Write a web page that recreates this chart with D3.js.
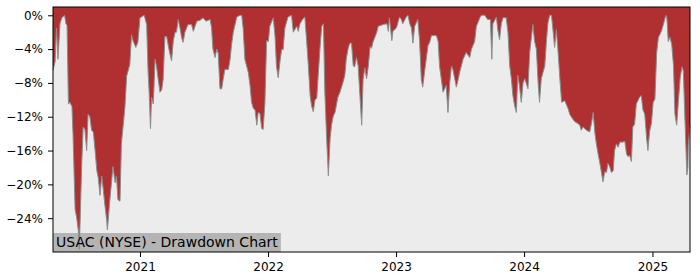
<!DOCTYPE html>
<html>
<head>
<meta charset="utf-8">
<title>USAC (NYSE) - Drawdown Chart</title>
<style>
  body { margin: 0; background: #fff; }
  svg { display: block; font-family: "DejaVu Sans", sans-serif; }
  .tick text { fill: #000; }
</style>
</head>
<body>
<svg id="chart" width="700" height="280"></svg>
<script src="https://cdnjs.cloudflare.com/ajax/libs/d3/7.8.5/d3.min.js"></script>
<script>

// drawdown in percent, one list per year
var dd2020 = [
  ["2020-04-28", -6.5], ["2020-05-04", -5.5], ["2020-05-08", -1.5], ["2020-05-12", -5.2],
  ["2020-05-18", -1.0], ["2020-05-23", -0.3], ["2020-05-31", 0], ["2020-06-04", -1.0],
  ["2020-06-07", -1.2], ["2020-06-11", -10.5], ["2020-06-15", -10.3], ["2020-06-21", -10.8],
  ["2020-06-24", -14], ["2020-06-30", -23], ["2020-07-04", -23.8], ["2020-07-09", -25.4],
  ["2020-07-12", -27.7], ["2020-07-19", -17.5], ["2020-07-23", -13.2], ["2020-07-28", -13.5],
  ["2020-08-02", -16], ["2020-08-06", -11.7], ["2020-08-11", -12], ["2020-08-16", -13.6],
  ["2020-08-21", -13.8], ["2020-08-26", -16], ["2020-08-31", -18.4], ["2020-09-04", -19.2],
  ["2020-09-09", -21.3], ["2020-09-14", -19], ["2020-09-18", -20.5], ["2020-09-23", -22.5],
  ["2020-09-28", -24.2], ["2020-09-30", -25.4], ["2020-10-07", -21.9], ["2020-10-16", -17.9],
  ["2020-10-22", -19.8], ["2020-10-26", -19], ["2020-10-30", -21.8], ["2020-11-05", -22],
  ["2020-11-09", -15.2], ["2020-11-19", -10.9], ["2020-11-24", -7.2], ["2020-12-03", -5.8],
  ["2020-12-08", -2.3], ["2020-12-12", -3.0], ["2020-12-20", -3.8], ["2020-12-26", -3.2]
];
var dd2021 = [
  ["2021-01-01", -0.3], ["2021-01-13", 0], ["2021-01-20", -1.1], ["2021-01-24", -6.6],
  ["2021-01-27", -9], ["2021-01-31", -13.4], ["2021-02-03", -9.7], ["2021-02-08", -10.5],
  ["2021-02-13", -5.2], ["2021-02-17", -6], ["2021-02-22", -7.6], ["2021-02-27", -9.1],
  ["2021-03-04", -8.8], ["2021-03-08", -7.6], ["2021-03-13", -2.5], ["2021-03-18", -2.5],
  ["2021-03-23", -3.7], ["2021-03-27", -4.5], ["2021-04-01", -5.4], ["2021-04-06", -3],
  ["2021-04-11", -2], ["2021-04-15", -2], ["2021-04-20", -0.5], ["2021-04-25", -1.5],
  ["2021-04-30", -2.7], ["2021-05-04", -3.2], ["2021-05-09", -2], ["2021-05-18", -1.1],
  ["2021-05-28", -1.1], ["2021-06-02", -1.9], ["2021-06-12", -0.7], ["2021-06-21", -0.6],
  ["2021-06-30", -0.3], ["2021-07-08", -0.7], ["2021-07-20", -0.5], ["2021-07-24", -1.5],
  ["2021-07-28", -4], ["2021-08-03", -5], ["2021-08-08", -4], ["2021-08-12", -4.5],
  ["2021-08-17", -8.7], ["2021-08-22", -8.7], ["2021-08-26", -7.6], ["2021-08-31", -6.4],
  ["2021-09-10", -6.4], ["2021-09-15", -5.2], ["2021-09-19", -3.5], ["2021-09-24", -2],
  ["2021-10-04", -0.2], ["2021-10-13", 0], ["2021-10-18", 0], ["2021-10-22", -1.5],
  ["2021-10-27", -5.2], ["2021-11-01", -6], ["2021-11-06", -6.8], ["2021-11-11", -8.4],
  ["2021-11-15", -10.3], ["2021-11-20", -11], ["2021-11-25", -11.2], ["2021-11-30", -13],
  ["2021-12-04", -11.5], ["2021-12-09", -11.6], ["2021-12-14", -13.4], ["2021-12-18", -13.5],
  ["2021-12-23", -10.5], ["2021-12-28", -3]
];
var dd2022 = [
  ["2022-01-02", -3.1], ["2022-01-06", -1.3], ["2022-01-16", -0.3], ["2022-01-21", -2.5],
  ["2022-01-25", -6], ["2022-01-30", -7.4], ["2022-02-04", -5.5], ["2022-02-09", -4],
  ["2022-02-13", -4.1], ["2022-02-18", -1.5], ["2022-02-27", -0.2], ["2022-03-09", 0],
  ["2022-03-14", -2], ["2022-03-24", -1.3], ["2022-03-28", -1.9], ["2022-04-02", -1],
  ["2022-04-11", -0.4], ["2022-04-16", -0.2], ["2022-04-21", -3], ["2022-04-26", -6],
  ["2022-05-01", -9.5], ["2022-05-05", -10.7], ["2022-05-10", -11.4], ["2022-05-15", -10],
  ["2022-05-20", -9.8], ["2022-05-24", -7.2], ["2022-05-29", -4], ["2022-06-03", -1.3],
  ["2022-06-08", -1.0], ["2022-06-12", -9.1], ["2022-06-17", -14.5], ["2022-06-22", -19],
  ["2022-06-27", -14.6], ["2022-07-01", -13], ["2022-07-06", -11.9], ["2022-07-11", -11.5],
  ["2022-07-19", -9.7], ["2022-07-25", -9.1], ["2022-08-03", -7.9], ["2022-08-08", -7.1],
  ["2022-08-12", -5.2], ["2022-08-17", -4], ["2022-08-22", -3.3], ["2022-08-27", -3.3],
  ["2022-09-01", -6], ["2022-09-05", -6.1], ["2022-09-10", -5], ["2022-09-15", -6],
  ["2022-09-20", -9.5], ["2022-09-25", -13], ["2022-09-29", -7.6], ["2022-10-04", -6.2],
  ["2022-10-09", -7.5], ["2022-10-14", -6], ["2022-10-19", -3.7], ["2022-10-23", -3.9],
  ["2022-10-27", -3.2], ["2022-11-07", -2], ["2022-11-11", -1.3], ["2022-11-25", -1.1],
  ["2022-12-06", -1], ["2022-12-10", -1.9], ["2022-12-13", -0.3], ["2022-12-20", -3],
  ["2022-12-23", -1.9]
];
var dd2023 = [
  ["2023-01-02", -1.5], ["2023-01-11", -0.2], ["2023-01-16", -0.5], ["2023-01-20", -1],
  ["2023-01-30", -0.2], ["2023-02-04", 0], ["2023-02-09", -1], ["2023-02-14", -1.5],
  ["2023-02-18", -3.3], ["2023-02-23", -1.3], ["2023-03-04", -0.5], ["2023-03-09", -3],
  ["2023-03-14", -7.6], ["2023-03-18", -8.5], ["2023-03-23", -6.8], ["2023-04-02", -3.6],
  ["2023-04-07", -3.2], ["2023-04-12", -2.4], ["2023-04-26", -2.4], ["2023-05-01", -3.1],
  ["2023-05-05", -6], ["2023-05-15", -9.1], ["2023-05-24", -8.3], ["2023-05-29", -11.5],
  ["2023-06-03", -8], ["2023-06-08", -6], ["2023-06-12", -6.4], ["2023-06-22", -8.5],
  ["2023-06-27", -7.6], ["2023-07-01", -6.8], ["2023-07-11", -5.2], ["2023-07-20", -4.4],
  ["2023-07-30", -5], ["2023-08-04", -4], ["2023-08-13", -3.1], ["2023-08-18", -1.3],
  ["2023-08-28", -0.3], ["2023-09-01", 0], ["2023-09-11", 0], ["2023-09-19", -0.5],
  ["2023-09-27", -0.5], ["2023-10-01", -5.2], ["2023-10-04", -1], ["2023-10-14", -0.2],
  ["2023-10-18", -1.7], ["2023-10-23", -2.9], ["2023-10-28", -1], ["2023-11-02", -0.3],
  ["2023-11-11", -0.3], ["2023-11-16", -2], ["2023-11-21", -6], ["2023-11-26", -7.6],
  ["2023-11-30", -9.5], ["2023-12-05", -10.7], ["2023-12-10", -11.5], ["2023-12-14", -7.1],
  ["2023-12-19", -8.4], ["2023-12-24", -10.3], ["2023-12-29", -8]
];
var dd2024 = [
  ["2024-01-03", -7.5], ["2024-01-12", -8.7], ["2024-01-17", -4.4], ["2024-01-26", -1.1],
  ["2024-01-31", -3.1], ["2024-02-05", -4], ["2024-02-10", -8], ["2024-02-14", -10.3],
  ["2024-02-19", -7.5], ["2024-02-29", -6], ["2024-03-05", -2.9], ["2024-03-09", -0.9],
  ["2024-03-14", 0], ["2024-03-19", 0], ["2024-03-24", -2], ["2024-03-28", -3.8],
  ["2024-04-02", -1.7], ["2024-04-07", -4.4], ["2024-04-12", -7.5], ["2024-04-17", -10.3],
  ["2024-04-26", -10.1], ["2024-05-06", -11.1], ["2024-05-10", -11.7], ["2024-05-19", -12.3],
  ["2024-05-25", -12.6], ["2024-06-02", -12.8], ["2024-06-08", -13], ["2024-06-12", -13.6],
  ["2024-06-17", -13.2], ["2024-06-27", -13.6], ["2024-07-06", -13.8], ["2024-07-11", -12.8],
  ["2024-07-16", -11.5], ["2024-07-21", -14], ["2024-07-25", -15.2], ["2024-07-30", -16.4],
  ["2024-08-04", -17.5], ["2024-08-09", -18.7], ["2024-08-13", -19.7], ["2024-08-18", -18.5],
  ["2024-08-23", -18.6], ["2024-08-27", -17.5], ["2024-09-01", -17.9], ["2024-09-06", -18.6],
  ["2024-09-11", -18.4], ["2024-09-15", -16], ["2024-09-20", -15.2], ["2024-09-25", -15.6],
  ["2024-09-30", -15], ["2024-10-09", -15], ["2024-10-14", -14.9], ["2024-10-19", -16.4],
  ["2024-10-23", -16.7], ["2024-10-28", -16.6], ["2024-11-02", -17.3], ["2024-11-06", -13.2],
  ["2024-11-11", -12.9], ["2024-11-16", -10.5], ["2024-11-25", -9.7], ["2024-11-30", -9.5],
  ["2024-12-05", -11.2], ["2024-12-10", -11.7], ["2024-12-15", -14.4], ["2024-12-19", -16],
  ["2024-12-24", -13.7], ["2024-12-29", -12.8]
];
var dd2025 = [
  ["2025-01-03", -10.3], ["2025-01-08", -9.9], ["2025-01-13", -4.4], ["2025-01-18", -2.6],
  ["2025-01-23", -2.2], ["2025-01-27", -1.8], ["2025-02-01", -1.1], ["2025-02-08", 0],
  ["2025-02-11", -0.3], ["2025-02-15", -3.1], ["2025-02-20", -2.6], ["2025-02-25", -3.5],
  ["2025-03-02", -6], ["2025-03-06", -11.7], ["2025-03-11", -13], ["2025-03-16", -10.1],
  ["2025-03-21", -7.4], ["2025-03-26", -6.1], ["2025-03-30", -6.6], ["2025-04-04", -12.8],
  ["2025-04-09", -18.9], ["2025-04-12", -18], ["2025-04-13", -15.5], ["2025-04-18", -13]
];

var yTicks = [0, -4, -8, -12, -16, -20, -24];
var xTicks = ["2021-01-01", "2022-01-01", "2023-01-01", "2024-01-01", "2025-01-01"];
var title = "USAC (NYSE) - Drawdown Chart";

var parse = d3.timeParse("%Y-%m-%d");
var data = [].concat(dd2020, dd2021, dd2022, dd2023, dd2024, dd2025)
  .map(function(d) { return { date: parse(d[0]), dd: d[1] }; });

var svg = d3.select("#chart");
var m = { left: 53, right: 10, top: 7, bottom: 28 };
var W = 700 - m.left - m.right, H = 280 - m.top - m.bottom;

var x = d3.scaleTime()
  .domain(d3.extent(data, function(d) { return d.date; }))
  .range([0, W]);
var y = d3.scaleLinear().domain([-28.0, 0.98]).range([H, 0]);

var g = svg.append("g").attr("transform", "translate(" + m.left + "," + m.top + ")");

g.append("rect").attr("width", W).attr("height", H).attr("fill", "#ececec");

// title box sits under the curve, its text on top
var label = g.append("g").attr("transform", "translate(0," + H + ")");
var box = label.append("rect")
  .attr("x", 0).attr("y", -19).attr("height", 19)
  .attr("fill", "#b4b4b4");

// red drawdown area hangs from the top of the plot down to the curve
var area = d3.area()
  .x(function(d) { return x(d.date); })
  .y0(0)
  .y1(function(d) { return y(d.dd); });
var line = d3.line()
  .x(function(d) { return x(d.date); })
  .y(function(d) { return y(d.dd); });

g.append("path").datum(data).attr("d", area).attr("fill", "#b03031");
g.append("path").datum(data).attr("d", line)
  .attr("fill", "none").attr("stroke", "#8a8f8f").attr("stroke-width", 1);

var lbl = g.append("text")
  .attr("transform", "translate(0," + H + ")")
  .attr("x", 3).attr("y", -5)
  .style("font-size", "14px").attr("fill", "#000")
  .text(title);
box.attr("width", lbl.node().getComputedTextLength() + 6);

var yAxis = d3.axisLeft(y)
  .tickValues(yTicks)
  .tickSize(5).tickPadding(5)
  .tickFormat(function(d) { return (d < 0 ? "\u2212" : "") + Math.abs(d) + "%"; });
var xAxis = d3.axisBottom(x)
  .tickValues(xTicks.map(parse))
  .tickSize(5).tickPadding(5)
  .tickFormat(d3.timeFormat("%Y"));

var ya = g.append("g").call(yAxis);
var xa = g.append("g").attr("transform", "translate(0," + H + ")").call(xAxis);
[ya, xa].forEach(function(a) {
  a.select(".domain").remove();
  a.selectAll("text").style("font-size", "12px").style("font-family", "DejaVu Sans");
  a.selectAll("line").attr("stroke", "#000");
});

g.append("rect").attr("width", W).attr("height", H)
  .attr("fill", "none").attr("stroke", "#000").attr("stroke-width", 1);

</script>
</body>
</html>
